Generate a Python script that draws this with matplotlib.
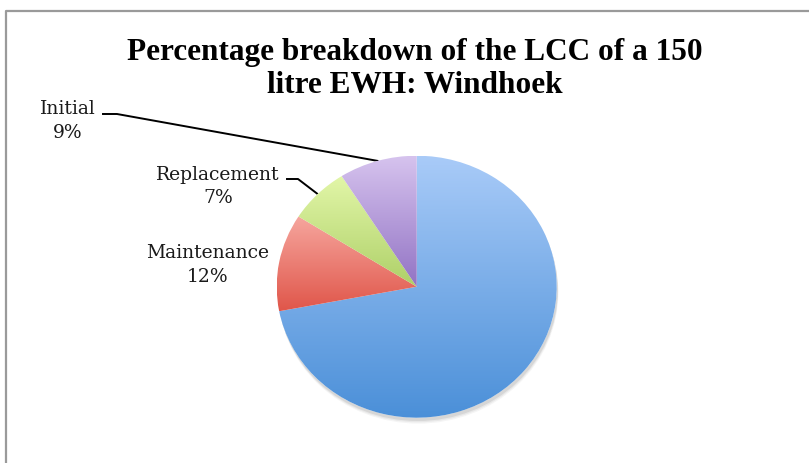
import numpy as np
import matplotlib
matplotlib.use("Agg")
import matplotlib.pyplot as plt
from matplotlib.patches import Ellipse
from matplotlib.lines import Line2D
from matplotlib.colors import LinearSegmentedColormap

# ---- data ----
categories = ["Operating", "Maintenance", "Replacement", "Initial"]
values = [72, 12, 7, 9]
title = "Percentage breakdown of the LCC of a 150\nlitre EWH: Windhoek"

# ---- styles ----
grad_colors = {
    "Operating": ("#a9cbf8", "#4a8fd8"),
    "Maintenance": ("#f6a69e", "#e0564a"),
    "Replacement": ("#e2f6a8", "#aed068"),
    "Initial": ("#d6c3ee", "#9273c4"),
}
W, H = 809, 463
fig = plt.figure(figsize=(W / 100, H / 100), dpi=100)
fig.patch.set_facecolor("white")

# overlay axes in pixel coords (y down)
ov = fig.add_axes([0, 0, 1, 1])
ov.set_xlim(0, W)
ov.set_ylim(H, 0)
ov.axis("off")
ov.plot([6.5, 6.5, W], [H, 10.5, 10.5], color="#9a9a9a", lw=1.6, solid_capstyle="butt")

# pie axes (elliptical pie)
cx, cy, rx, ry = 416.7, 286.7, 140.0, 131.0
ax = fig.add_axes([(cx - rx) / W, (H - cy - ry) / H, 2 * rx / W, 2 * ry / H])
wedges, _ = ax.pie(values, startangle=90, counterclock=False, radius=1.0,
                   colors=["none"] * len(values), wedgeprops=dict(linewidth=0))
ax.set_aspect("auto")
ax.axis("off")

# soft shadow
for dx, dy, a in [(0.012, -0.045, 0.06), (0.01, -0.035, 0.08), (0.008, -0.025, 0.12)]:
    ax.add_patch(Ellipse((dx, dy), 2.0, 2.0, facecolor="#555555", alpha=a, lw=0,
                         zorder=0, clip_on=False))
ax.add_patch(Ellipse((0, 0), 2.0, 2.0, facecolor="white", lw=0, zorder=0.5, clip_on=False))

grad = np.linspace(0, 1, 256).reshape(-1, 1)
for w, name in zip(wedges, categories):
    verts = w.get_path().vertices
    x0, x1 = verts[:, 0].min(), verts[:, 0].max()
    y0, y1 = verts[:, 1].min(), verts[:, 1].max()
    top, bot = grad_colors[name]
    cmap = LinearSegmentedColormap.from_list(name, [top, bot])
    im = ax.imshow(grad, cmap=cmap, extent=(x0, x1, y0, y1), origin="upper",
                   aspect="auto", interpolation="bilinear", zorder=1)
    im.set_clip_path(w)
ax.set_xlim(-1, 1)
ax.set_ylim(-1, 1)

def edge_px(w):
    mid = np.deg2rad((w.theta1 + w.theta2) / 2)
    return cx + rx * np.cos(mid), cy - ry * np.sin(mid)

lab_font = dict(family="DejaVu Serif", fontsize=13.5, color="#1a1a1a", linespacing=1.42)

pct = {c: f"{v}%" for c, v in zip(categories, values)}
ov.text(485, 334, f"Operating\n{pct['Operating']}", ha="center", va="center", **lab_font)
ov.text(207.5, 265, f"Maintenance\n{pct['Maintenance']}", ha="center", va="center", **lab_font)
ov.text(218, 186.5, f"Replacement\n{pct['Replacement']}", ha="center", va="center", **lab_font)
ex, ey = edge_px(wedges[2])
ov.add_line(Line2D([287, 298, ex], [179, 179, ey], color="black", lw=1.4))
ov.text(68, 121, f"Initial\n{pct['Initial']}", ha="center", va="center", **lab_font)
ex, ey = edge_px(wedges[3])
ov.add_line(Line2D([103, 117, ex], [114, 114, ey], color="black", lw=1.4))

ov.text(415, 69, title, ha="center", va="center", family="Liberation Serif",
        fontweight="bold", fontsize=22.5, linespacing=1.22, color="black")

fig.savefig("out.png", dpi=100)
